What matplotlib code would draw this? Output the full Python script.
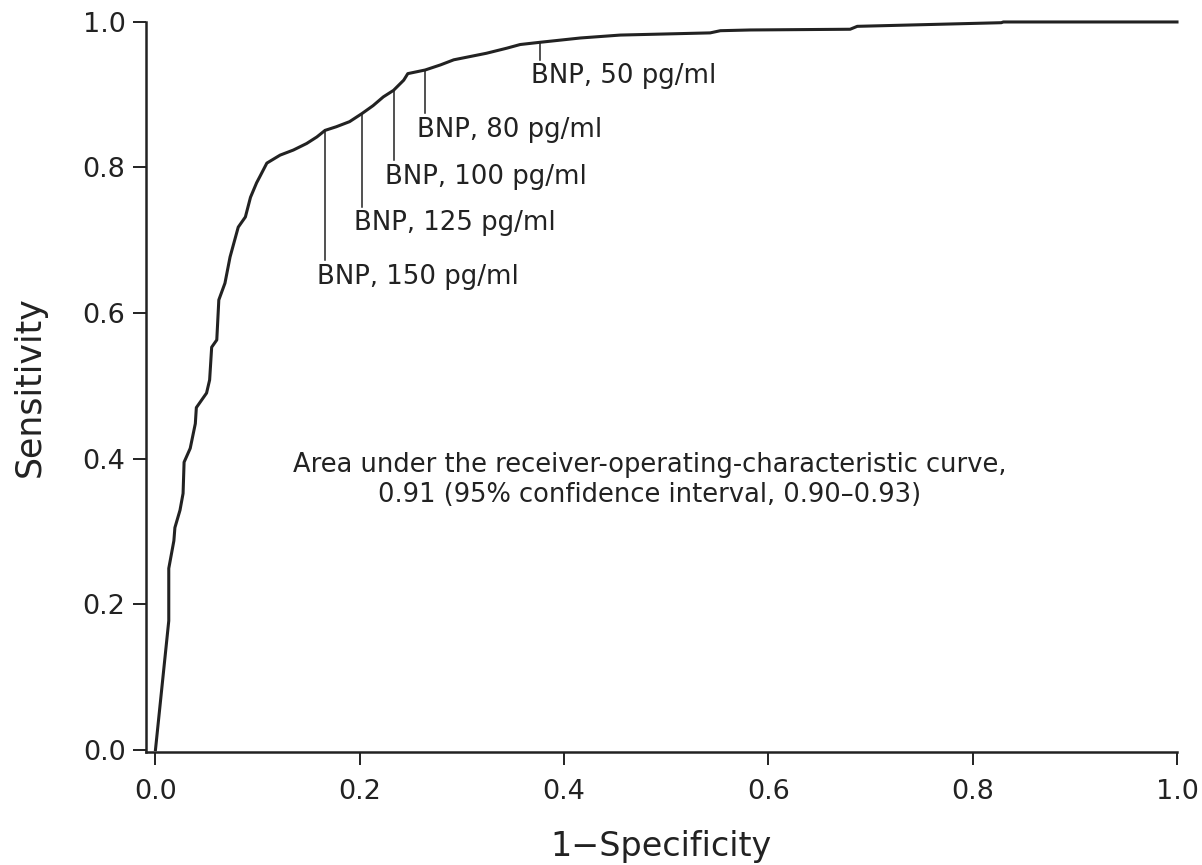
import matplotlib
matplotlib.use("Agg")
import matplotlib.pyplot as plt

# ROC curve points (1 - specificity, sensitivity)
fpr = [0.000, 0.013, 0.013, 0.018, 0.019, 0.024, 0.027, 0.028, 0.034, 0.039,
       0.040, 0.050, 0.053, 0.055, 0.060, 0.062, 0.068, 0.073, 0.081, 0.088,
       0.093, 0.099, 0.102, 0.109, 0.122, 0.135, 0.148, 0.158, 0.166, 0.177,
       0.190, 0.202, 0.213, 0.223, 0.233, 0.243, 0.247, 0.264, 0.279, 0.292,
       0.324, 0.344, 0.357, 0.376, 0.416, 0.455, 0.543, 0.553, 0.582, 0.680,
       0.687, 0.828, 0.830, 1.000]
tpr = [0.000, 0.177, 0.249, 0.287, 0.305, 0.329, 0.352, 0.395, 0.414, 0.448,
       0.470, 0.490, 0.508, 0.553, 0.563, 0.618, 0.641, 0.677, 0.718, 0.732,
       0.759, 0.779, 0.787, 0.806, 0.817, 0.824, 0.833, 0.842, 0.851, 0.856,
       0.863, 0.874, 0.885, 0.897, 0.906, 0.920, 0.929, 0.934, 0.941, 0.948,
       0.957, 0.964, 0.969, 0.972, 0.978, 0.982, 0.985, 0.988, 0.989, 0.990,
       0.994, 0.999, 1.000, 1.000]

# BNP cut-off annotations
cut_labels = ["BNP, 150 pg/ml", "BNP, 125 pg/ml", "BNP, 100 pg/ml",
              "BNP, 80 pg/ml", "BNP, 50 pg/ml"]
cut_x = [0.166, 0.202, 0.233, 0.264, 0.376]
cut_y = [0.851, 0.874, 0.906, 0.934, 0.972]
cut_line_end = [0.673, 0.746, 0.810, 0.875, 0.948]

xticks = [0.0, 0.2, 0.4, 0.6, 0.8, 1.0]
yticks = [0.0, 0.2, 0.4, 0.6, 0.8, 1.0]

auc_text = ("Area under the receiver-operating-characteristic curve,\n"
            "0.91 (95% confidence interval, 0.90\u20130.93)")

plt.rcParams['font.family'] = ['DejaVu Sans']
dark = "#222222"

fig = plt.figure(figsize=(12.02, 8.65), dpi=100)
ax = fig.add_axes([0.1212, 0.1306, 0.8580, 0.8440])

ax.plot(fpr, tpr, color=dark, lw=2.2, clip_on=False, zorder=3)

for lab, x, y, ye in zip(cut_labels, cut_x, cut_y, cut_line_end):
    ax.plot([x, x], [y, ye], color=dark, lw=1.1, clip_on=False)
    ax.text(x - 0.008, ye - 0.005, lab, ha="left", va="top",
            fontsize=18.7, color=dark)

ax.text(0.484, 0.370, auc_text, ha="center", va="center", fontsize=18.5,
        color=dark, linespacing=1.2)

ax.set_xlim(-0.0096, 1.0)
ax.set_ylim(-0.0034, 1.0)
ax.set_xticks(xticks)
ax.set_yticks(yticks)
ax.set_xticklabels([f"{t:.1f}" for t in xticks])
ax.set_yticklabels([f"{t:.1f}" for t in yticks])

for s in ["top", "right"]:
    ax.spines[s].set_visible(False)
for s in ["left", "bottom"]:
    ax.spines[s].set_linewidth(1.8)
    ax.spines[s].set_color(dark)

ax.tick_params(axis="both", direction="out", length=9.5, width=1.4,
               color=dark, labelsize=19.5, labelcolor=dark)
ax.tick_params(axis="x", pad=10)
ax.tick_params(axis="y", pad=5)

ax.set_xlabel("1\u2212Specificity", fontsize=24, color=dark, labelpad=18)
ax.set_ylabel("Sensitivity", fontsize=25, color=dark, labelpad=26)

fig.savefig("out.png", dpi=100, facecolor="white")
